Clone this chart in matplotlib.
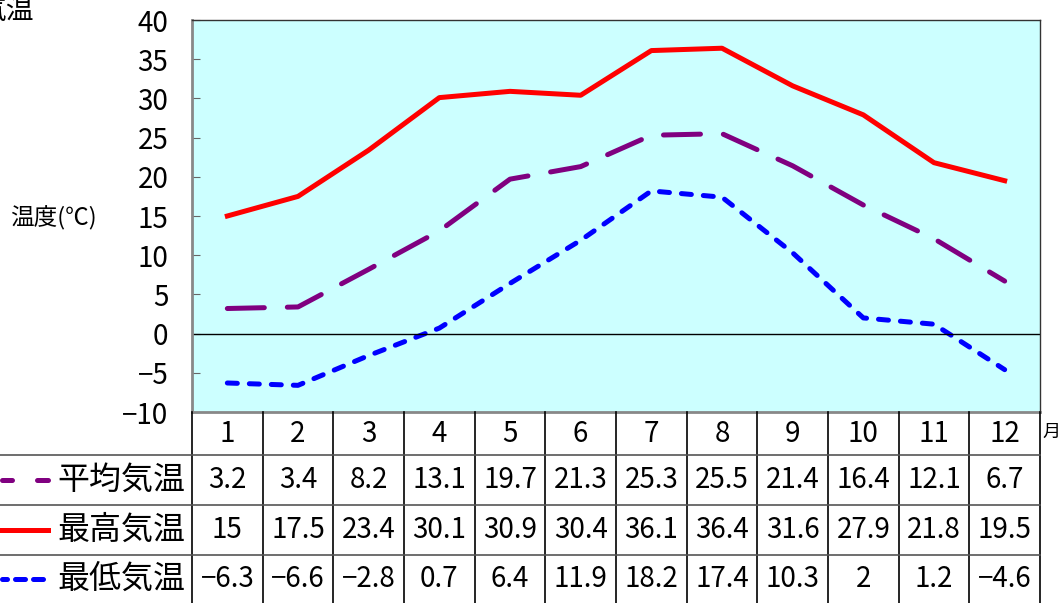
import numpy as np
import matplotlib.pyplot as plt
from matplotlib.lines import Line2D

plt.rcParams['font.family'] = ['Noto Sans CJK JP', 'DejaVu Sans']

months = [1, 2, 3, 4, 5, 6, 7, 8, 9, 10, 11, 12]
avg_temp = [3.2, 3.4, 8.2, 13.1, 19.7, 21.3, 25.3, 25.5, 21.4, 16.4, 12.1, 6.7]
max_temp = [15, 17.5, 23.4, 30.1, 30.9, 30.4, 36.1, 36.4, 31.6, 27.9, 21.8, 19.5]
min_temp = [-6.3, -6.6, -2.8, 0.7, 6.4, 11.9, 18.2, 17.4, 10.3, 2, 1.2, -4.6]
series_names = ['平均気温', '最高気温', '最低気温']
yticks = [-10, -5, 0, 5, 10, 15, 20, 25, 30, 35, 40]

W, H = 1062, 603
fig = plt.figure(figsize=(W / 100, H / 100), dpi=100)

def fx(px):
    return px / W

def fy(py):
    return 1 - py / H

def minus(v):
    return str(v).replace('-', '\u2212')

left, right, top, bottom = 192, 1040, 20, 412
ax = fig.add_axes([fx(left), fy(bottom), fx(right - left), (bottom - top) / H])
ax.set_facecolor('#ccffff')

LW = 3.6
colors = ['#800080', '#ff0000', '#0000ff']
patterns = [(0, (7.4, 4.6)), '-', (0, (2.0, 2.4))]
series = [avg_temp, max_temp, min_temp]

for vals, c, ls in zip(series, colors, patterns):
    ln, = ax.plot(months, vals, lw=LW, color=c, linestyle=ls,
                  solid_joinstyle='round')
    if ls != '-':
        ln.set_dash_capstyle('round')

ax.axhline(0, color='black', lw=1)
ax.set_xlim(0.5, 12.5)
ax.set_ylim(-10, 40)
ax.set_yticks(yticks)
ax.set_yticklabels([minus(t) for t in yticks], fontsize=20)
ax.set_xticks([])
ax.tick_params(axis='y', direction='in', length=6, pad=17, color='#666666')
ax.spines['left'].set_color('#888888')
ax.spines['left'].set_linewidth(2)
ax.spines['bottom'].set_color('#888888')
ax.spines['bottom'].set_linewidth(2)
for s in ['top', 'right']:
    ax.spines[s].set_color('#333333')
    ax.spines[s].set_linewidth(1)

# title is clipped at the left edge, as in the original
fig.text(fx(34), fy(11), '気温', fontsize=20, ha='right', va='center')
fig.text(fx(10), fy(218), '温度(℃)', fontsize=17, ha='left', va='center')

# data table below the plot
colw = (right - left) / 12
row_edges = [412, 455, 505, 555, 603]
for i in range(13):
    x = left + i * colw
    fig.add_artist(Line2D([fx(x), fx(x)], [fy(row_edges[0]), fy(603)],
                          color='black', lw=1.2))
for y in row_edges[1:4]:
    fig.add_artist(Line2D([0, fx(right)], [fy(y), fy(y)], color='#555555', lw=1.2))

for i, m in enumerate(months):
    cx = left + (i + 0.5) * colw
    fig.text(fx(cx), fy(434), str(m), fontsize=20, ha='center', va='center')
fig.text(fx(1042), fy(432), '月', fontsize=13, ha='left', va='center')

legend_ls = [(-7, (4.5, 5.0)), '-', (1.0, (2.0, 1.6))]
for r, (vals, c, ls, name) in enumerate(zip(series, colors, legend_ls, series_names)):
    cy = (row_edges[r + 1] + row_edges[r + 2]) / 2
    ln = Line2D([fx(2), fx(48)], [fy(cy), fy(cy)], lw=LW, color=c, linestyle=ls)
    if ls != '-':
        ln.set_dash_capstyle('round')
    fig.add_artist(ln)
    fig.text(fx(57), fy(cy), name, fontsize=23, ha='left', va='center')
    for i, v in enumerate(vals):
        cx = left + (i + 0.5) * colw
        fig.text(fx(cx), fy(cy), minus(v), fontsize=20, ha='center', va='center')

fig.savefig('out.png', dpi=100)
